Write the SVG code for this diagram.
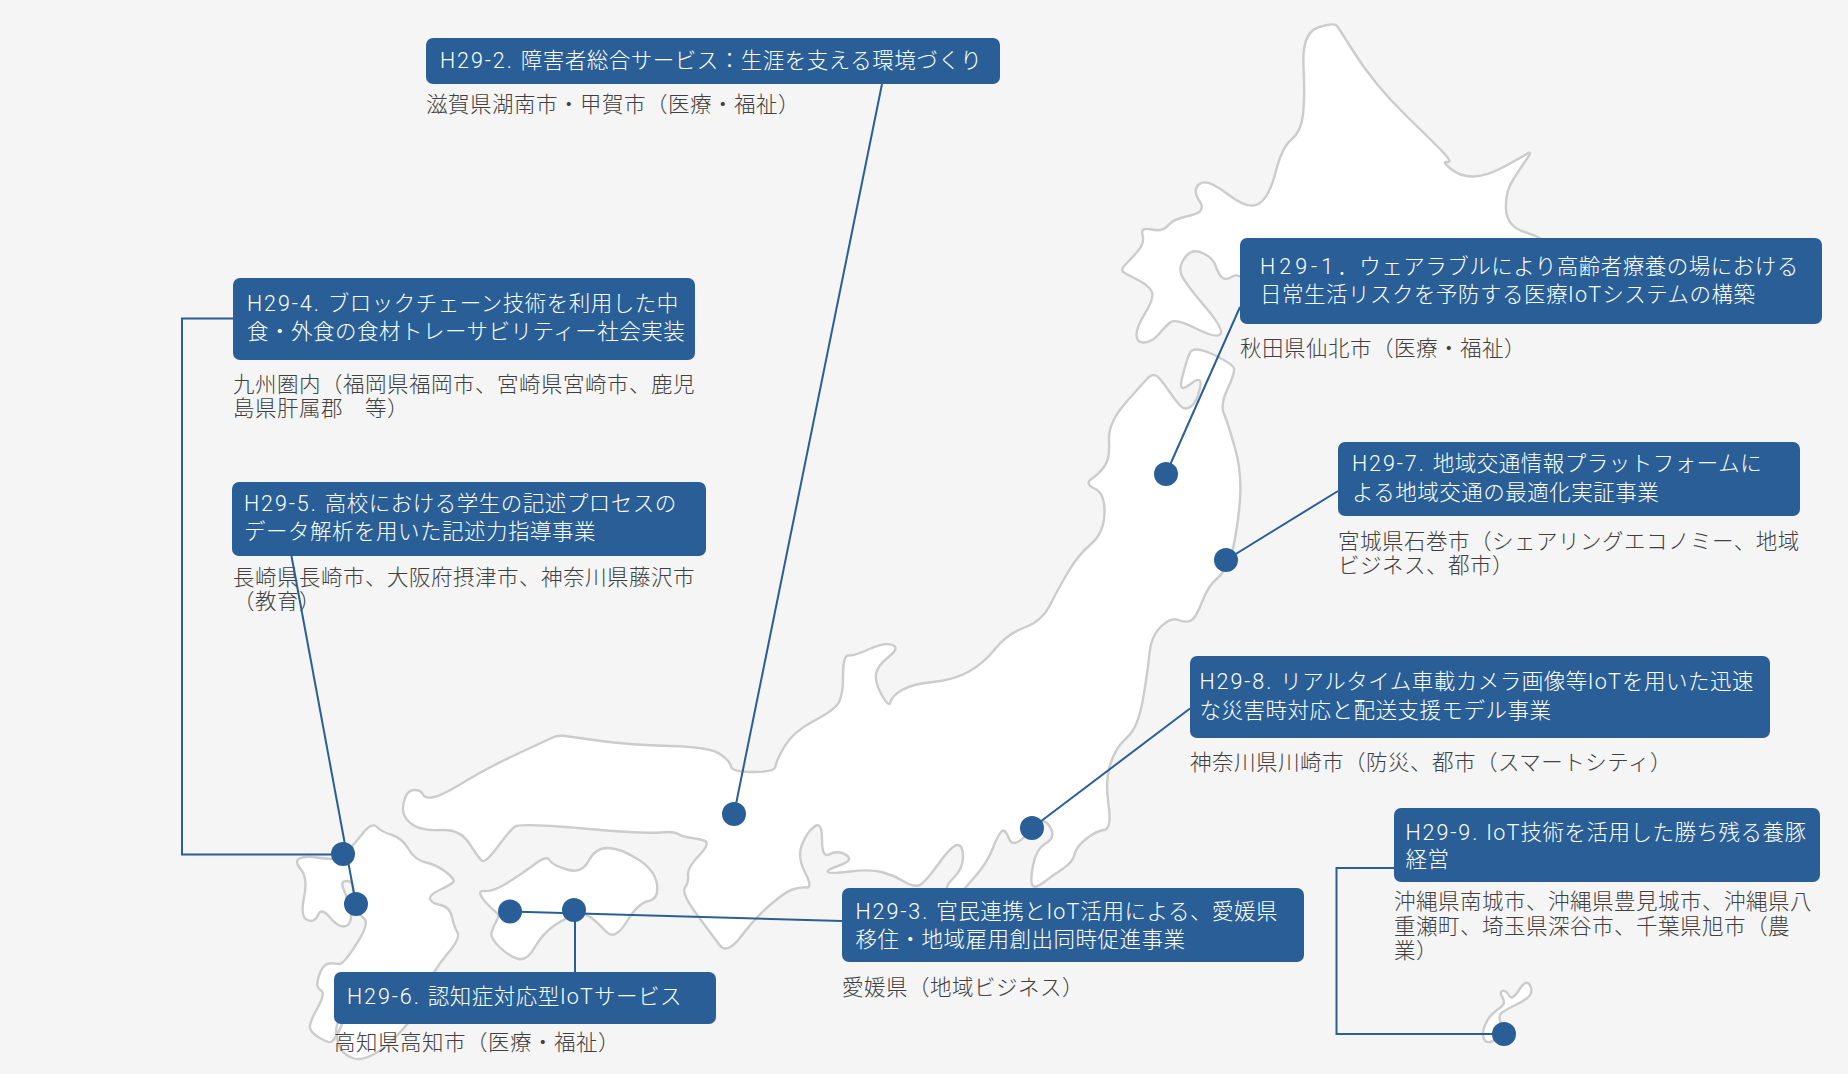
<svg xmlns="http://www.w3.org/2000/svg" width="1848" height="1074" viewBox="0 0 1848 1074">
<style>
.bg{fill:#f5f5f5}
.land{fill:#fff;stroke:#ccc;stroke-width:2.4;stroke-linejoin:round}
.box{fill:#295f96}
text{font-family:Roboto,"Noto Sans CJK JP",sans-serif;font-size:21.5px;letter-spacing:.5px;font-weight:300;transform:translateY(.7px)}
.t{fill:#fff}
.s{fill:#404040}
.p{letter-spacing:1.9px}
.q{letter-spacing:4px}
.i{letter-spacing:1.2px}
.c{fill:none;stroke:#295f96;stroke-width:2}
.d{fill:#295f96}
</style>
<rect class="bg" width="1848" height="1074"/>
<g id="map">
<path id="hokkaido" class="land" d="M1303.5 65Q1302 33 1318 27.5Q1334 22 1337 26Q1340 30 1351.5 48.5Q1363 67 1376.5 83.5Q1390 100 1406.5 116Q1423 132 1438.5 147.5Q1454 163 1447.5 162Q1441 161 1451 169Q1461 177 1474 176.5Q1487 176 1503.5 167Q1520 158 1526.5 154Q1533 150 1527.5 158Q1522 166 1513.5 179Q1505 192 1506 209.5Q1507 227 1526 232.5Q1545 238 1552.5 249Q1560 260 1530 280Q1500 300 1426 313Q1352 326 1306 313Q1260 300 1250 286Q1240 272 1232.5 276.5Q1225 281 1221.5 277Q1218 273 1215.5 265.5Q1213 258 1202.5 253Q1192 248 1185 257.5Q1178 267 1181.5 275Q1185 283 1204.5 306Q1224 329 1220.5 334Q1217 339 1196 328.5Q1175 318 1170 322.5Q1165 327 1158.5 334.5Q1152 342 1144.5 342.5Q1137 343 1136.5 335.5Q1136 328 1145.5 312.5Q1155 297 1151.5 291Q1148 285 1138 280Q1128 275 1124 272.5Q1120 270 1125 265Q1130 260 1137.5 251.5Q1145 243 1142.5 235Q1140 227 1151.5 229.5Q1163 232 1168 225.5Q1173 219 1190 215.5Q1207 212 1199.5 201Q1192 190 1199.5 184Q1207 178 1227.5 194Q1248 210 1258.5 204Q1269 198 1275.5 172.5Q1282 147 1291.5 139.5Q1301 132 1303 114.5Q1305 97 1303.5 65Z"/>
<path id="honshu" class="land" d="M1125.5 403Q1143 383 1148.5 377.5Q1154 372 1159.5 378.5Q1165 385 1170 392.5Q1175 400 1180 405.5Q1185 411 1191 406.5Q1197 402 1200 388Q1203 374 1190.5 384Q1178 394 1182 378Q1186 362 1189.5 353.5Q1193 345 1213 354.5Q1233 364 1234 368.5Q1235 373 1227.5 389Q1220 405 1224 414Q1228 423 1235.5 450Q1243 477 1239 511Q1235 545 1230 558.5Q1225 572 1216.5 579Q1208 586 1202 602Q1196 618 1191 620.5Q1186 623 1178.5 620Q1171 617 1161 626.5Q1151 636 1149.5 653Q1148 670 1143 699Q1138 728 1127 737.5Q1116 747 1110.5 763.5Q1105 780 1108.5 804.5Q1112 829 1104 830Q1096 831 1086 839Q1076 847 1074.5 854.5Q1073 862 1062.5 869Q1052 876 1043.5 882.5Q1035 889 1032.5 885.5Q1030 882 1033 865.5Q1036 849 1045.5 843.5Q1055 838 1051.5 830Q1048 822 1044 821.5Q1040 821 1026.5 835Q1013 849 1009 838.5Q1005 828 1001.5 831.5Q998 835 992.5 849Q987 863 976 875.5Q965 888 960 894Q955 900 949 894Q943 888 953 878.5Q963 869 963 857Q963 845 957.5 845Q952 845 938 864.5Q924 884 918.5 885.5Q913 887 903 881Q893 875 881.5 872Q870 869 850 871.5Q830 874 828 872Q826 870 838 866Q850 862 849 858.5Q848 855 842 853Q836 851 829 854.5Q822 858 822 839.5Q822 821 814.5 826.5Q807 832 802 844.5Q797 857 805 872.5Q813 888 806.5 887.5Q800 887 792.5 889.5Q785 892 770 905Q755 918 741 936.5Q727 955 719.5 945Q712 935 696.5 914Q681 893 685 887.5Q689 882 688 875Q687 868 699.5 855Q712 842 702.5 840Q693 838 688 837.5Q683 837 678 834Q673 831 660 832.5Q647 834 583.5 828.5Q520 823 515 826.5Q510 830 497.5 847Q485 864 481.5 860.5Q478 857 469 843Q460 829 441.5 830Q423 831 414 825.5Q405 820 403.5 813Q402 806 405 798Q408 790 414.5 790Q421 790 423 794.5Q425 799 434 797Q443 795 465 781.5Q487 768 516 754.5Q545 741 551.5 738Q558 735 565 736Q572 737 601 741Q630 745 670 746Q710 747 720 754Q730 761 731 766.5Q732 772 753.5 772Q775 772 775.5 766.5Q776 761 784.5 746.5Q793 732 812 722Q831 712 837 705Q843 698 843 676.5Q843 655 848.5 655.5Q854 656 869.5 649Q885 642 892.5 645Q900 648 888.5 657Q877 666 876 674.5Q875 683 882 695.5Q889 708 890.5 702Q892 696 902 690Q912 684 933 682Q954 680 969 671.5Q984 663 995.5 648.5Q1007 634 1024.5 627.5Q1042 621 1049.5 606Q1057 591 1067.5 573Q1078 555 1091 544Q1104 533 1104.5 513Q1105 493 1094.5 488.5Q1084 484 1092 478.5Q1100 473 1105 465.5Q1110 458 1109 440.5Q1108 423 1125.5 403Z"/>
<path id="shikoku" class="land" d="M484.5 901Q476 890 484.5 891Q493 892 508 882.5Q523 873 535 864Q547 855 549.5 860Q552 865 567 869.5Q582 874 588.5 861Q595 848 607.5 848Q620 848 637.5 859Q655 870 657 884.5Q659 899 648.5 901Q638 903 626.5 922Q615 941 606 931.5Q597 922 591 917.5Q585 913 576 915Q567 917 555 925Q543 933 535 947Q527 961 518.5 959Q510 957 500 947.5Q490 938 491.5 932.5Q493 927 496.5 921Q500 915 496.5 912.5Q493 910 484.5 901Z"/>
<path id="kyushu" class="land" d="M363.5 832.5Q372 822 377 827Q382 832 392 835Q402 838 408.5 849Q415 860 426 862.5Q437 865 446.5 872.5Q456 880 453 882.5Q450 885 439.5 890Q429 895 430 899Q431 903 440.5 905Q450 907 452 917Q454 927 457.5 932.5Q461 938 446.5 955Q432 972 428.5 986Q425 1000 417 1011.5Q409 1023 396 1036.5Q383 1050 371.5 1055.5Q360 1061 352.5 1058Q345 1055 341.5 1050Q338 1045 336.5 1035Q335 1025 340 1020Q345 1015 342.5 1022.5Q340 1030 337.5 1034Q335 1038 332.5 1041Q330 1044 320.5 1038.5Q311 1033 310 1028Q309 1023 317.5 1008Q326 993 320.5 990Q315 987 319 975.5Q323 964 329 963.5Q335 963 339 964Q343 965 356.5 944Q370 923 364 918.5Q358 914 355.5 904.5Q353 895 353 888Q353 881 346.5 881Q340 881 343.5 889Q347 897 349.5 906Q352 915 350.5 920.5Q349 926 343.5 926.5Q338 927 329.5 917Q321 907 318 915Q315 923 307.5 920Q300 917 304 897.5Q308 878 301 869.5Q294 861 299.5 858.5Q305 856 312.5 857Q320 858 330 859Q340 860 347.5 851.5Q355 843 363.5 832.5Z"/>
<path id="okinawa" class="land" d="M1519 990Q1526 979 1529.5 984.5Q1533 990 1530.5 994.5Q1528 999 1516.5 1004.5Q1505 1010 1501.5 1013Q1498 1016 1500.5 1022Q1503 1028 1499 1034.5Q1495 1041 1490 1042Q1485 1043 1483.5 1037.5Q1482 1032 1485 1025Q1488 1018 1492.5 1014Q1497 1010 1501.5 1006.5Q1506 1003 1502.5 997.5Q1499 992 1502.5 991Q1506 990 1509 995.5Q1512 1001 1519 990Z"/>
</g>
<g id="h29-1"><rect class="box" x="1240" y="238" width="582" height="86" rx="7"/>
<text class="t" x="1260" y="273"><tspan class="q">H29-1</tspan>．ウェアラブルにより高齢者療養の場における</text>
<text class="t" x="1260" y="301">日常生活リスクを予防する医療<tspan class="i">IoT</tspan>システムの構築</text>
<text class="s" x="1240" y="355">秋田県仙北市（医療・福祉）</text></g>
<g id="h29-2"><rect class="box" x="426" y="38" width="574" height="46" rx="7"/>
<text class="t" x="440" y="67"><tspan class="p">H29-2. </tspan>障害者総合サービス：生涯を支える環境づくり</text>
<text class="s" x="426" y="111">滋賀県湖南市・甲賀市（医療・福祉）</text></g>
<g id="h29-3"><rect class="box" x="842" y="888" width="462" height="74" rx="7"/>
<text class="t" x="855.5" y="918"><tspan class="p">H29-3. </tspan>官民連携と<tspan class="i">IoT</tspan>活用による、愛媛県</text>
<text class="t" x="855.5" y="946.5">移住・地域雇用創出同時促進事業</text>
<text class="s" x="842" y="994">愛媛県（地域ビジネス）</text></g>
<g id="h29-4"><rect class="box" x="233" y="278" width="462" height="82" rx="7"/>
<text class="t" x="247" y="310"><tspan class="p">H29-4. </tspan>ブロックチェーン技術を利用した中</text>
<text class="t" x="247" y="338.5">食・外食の食材トレーサビリティー社会実装</text>
<text class="s" x="233" y="391">九州圏内（福岡県福岡市、宮崎県宮崎市、鹿児</text>
<text class="s" x="233" y="415">島県肝属郡　等）</text></g>
<g id="h29-5"><rect class="box" x="232" y="482" width="474" height="74" rx="7"/>
<text class="t" x="244" y="510"><tspan class="p">H29-5. </tspan>高校における学生の記述プロセスの</text>
<text class="t" x="244" y="538.5">データ解析を用いた記述力指導事業</text>
<text class="s" x="233" y="584.5">長崎県長崎市、大阪府摂津市、神奈川県藤沢市</text>
<text class="s" x="233" y="608">（教育）</text></g>
<g id="h29-6"><rect class="box" x="334" y="972" width="382" height="52" rx="7"/>
<text class="t" x="347" y="1003.5"><tspan class="p">H29-6. </tspan>認知症対応型<tspan class="i">IoT</tspan>サービス</text>
<text class="s" x="334" y="1049.5">高知県高知市（医療・福祉）</text></g>
<g id="h29-7"><rect class="box" x="1338" y="442" width="462" height="74" rx="7"/>
<text class="t" x="1352" y="470"><tspan class="p">H29-7. </tspan>地域交通情報プラットフォームに</text>
<text class="t" x="1352" y="499">よる地域交通の最適化実証事業</text>
<text class="s" x="1338" y="548.5">宮城県石巻市（シェアリングエコノミー、地域</text>
<text class="s" x="1338" y="572.5">ビジネス、都市）</text></g>
<g id="h29-8"><rect class="box" x="1190" y="656" width="580" height="82" rx="7"/>
<text class="t" x="1199.5" y="688"><tspan class="p">H29-8. </tspan>リアルタイム車載カメラ画像等<tspan class="i">IoT</tspan>を用いた迅速</text>
<text class="t" x="1199.5" y="717">な災害時対応と配送支援モデル事業</text>
<text class="s" x="1190" y="769">神奈川県川崎市（防災、都市（スマートシティ）</text></g>
<g id="h29-9"><rect class="box" x="1394" y="808" width="426" height="74" rx="7"/>
<text class="t" x="1405.5" y="839"><tspan class="p">H29-9. </tspan><tspan class="i">IoT</tspan>技術を活用した勝ち残る養豚</text>
<text class="t" x="1405.5" y="866.5">経営</text>
<text class="s" x="1394" y="908.5">沖縄県南城市、沖縄県豊見城市、沖縄県八</text>
<text class="s" x="1394" y="933">重瀬町、埼玉県深谷市、千葉県旭市（農</text>
<text class="s" x="1394" y="957">業）</text></g>
<g id="connectors">
<path class="c" d="M1240 307L1166 474"/>
<path class="c" d="M882 84L734 814"/>
<path class="c" d="M842 921L510 911.5"/>
<path class="c" d="M575 972V910"/>
<path class="c" d="M233 318.5H182V854.5H343"/>
<path class="c" d="M291.5 556L356 904"/>
<path class="c" d="M1338 491L1226 560"/>
<path class="c" d="M1190 708.5L1032 828"/>
<path class="c" d="M1394 868H1336.5V1034H1504"/>
<circle class="d" cx="1166" cy="474" r="12"/>
<circle class="d" cx="734" cy="814" r="12"/>
<circle class="d" cx="510" cy="911.5" r="12"/>
<circle class="d" cx="574" cy="910" r="12"/>
<circle class="d" cx="343" cy="854" r="12"/>
<circle class="d" cx="356" cy="904" r="12"/>
<circle class="d" cx="1226" cy="560" r="12"/>
<circle class="d" cx="1032" cy="828" r="12"/>
<circle class="d" cx="1504" cy="1034" r="12"/>
</g>
</svg>
